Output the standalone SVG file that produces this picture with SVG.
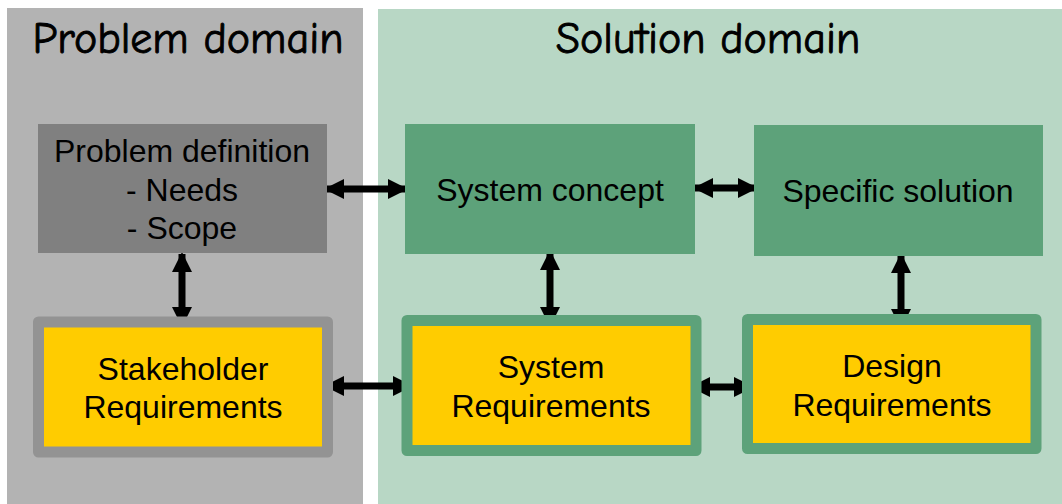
<svg xmlns="http://www.w3.org/2000/svg" width="1062" height="504" viewBox="0 0 1062 504">
  <defs>
    <marker id="head" viewBox="0 0 20 20" refX="18" refY="10" markerWidth="20" markerHeight="20" markerUnits="userSpaceOnUse" orient="auto-start-reverse">
      <path d="M0,0 L20,10 L0,20 Z" fill="#000"/>
    </marker>
  </defs>
  <style>
    .title { font-family: "Comic Sans MS", "Comic Neue", "DejaVu Sans", sans-serif; font-size: 44px; fill: #000; stroke: #000; stroke-width: 0.9; text-anchor: middle; }
    .lbl { font-family: "Liberation Sans", Arial, sans-serif; font-size: 32px; fill: #000; text-anchor: middle; }
    .concept { fill: #5da27a; }
    .req { fill: #ffcc00; stroke-width: 11; stroke-linejoin: round; }
    .link { stroke: #000; stroke-width: 7; fill: none; marker-start: url(#head); marker-end: url(#head); }
  </style>

  <rect width="1062" height="504" fill="#fff"/>

  <!-- domain panels -->
  <g id="problem-domain">
    <rect x="7" y="8" width="356" height="496" fill="#b3b3b3"/>
    <text class="title" x="188" y="53">Problem domain</text>
  </g>
  <g id="solution-domain">
    <rect x="378" y="9" width="684" height="495" fill="#b8d7c5"/>
    <text class="title" x="708" y="53">Solution domain</text>
  </g>

  <!-- connectors -->
  <g id="connectors">
    <line class="link" x1="326" y1="189" x2="406" y2="189"/>
    <line class="link" x1="695" y1="188" x2="756" y2="188"/>
    <line class="link" x1="182" y1="254" x2="182" y2="325"/>
    <line class="link" x1="550" y1="252" x2="550" y2="325"/>
    <line class="link" x1="901" y1="255" x2="901" y2="327"/>
    <line class="link" x1="326" y1="386" x2="411" y2="386"/>
    <line class="link" x1="692" y1="387" x2="752" y2="387"/>
  </g>

  <!-- nodes -->
  <g id="problem-definition">
    <rect x="38" y="124" width="289" height="129" fill="#808080"/>
    <text class="lbl" x="182" y="162">Problem definition</text>
    <text class="lbl" x="182" y="201">- Needs</text>
    <text class="lbl" x="182" y="239">- Scope</text>
  </g>
  <g id="system-concept">
    <rect class="concept" x="405" y="124" width="290" height="130"/>
    <text class="lbl" x="550" y="201">System concept</text>
  </g>
  <g id="specific-solution">
    <rect class="concept" x="754" y="125" width="289" height="131"/>
    <text class="lbl" x="898" y="202">Specific solution</text>
  </g>
  <g id="stakeholder-requirements">
    <rect class="req" x="38.5" y="322" width="289" height="130" stroke="#939393"/>
    <text class="lbl" x="183" y="380">Stakeholder</text>
    <text class="lbl" x="183" y="418">Requirements</text>
  </g>
  <g id="system-requirements">
    <rect class="req" x="407" y="320.5" width="289" height="130" stroke="#5da27a"/>
    <text class="lbl" x="551" y="378">System</text>
    <text class="lbl" x="551" y="417">Requirements</text>
  </g>
  <g id="design-requirements">
    <rect class="req" x="747.5" y="319.5" width="288.5" height="129" stroke="#5da27a"/>
    <text class="lbl" x="892" y="377">Design</text>
    <text class="lbl" x="892" y="416">Requirements</text>
  </g>
</svg>
